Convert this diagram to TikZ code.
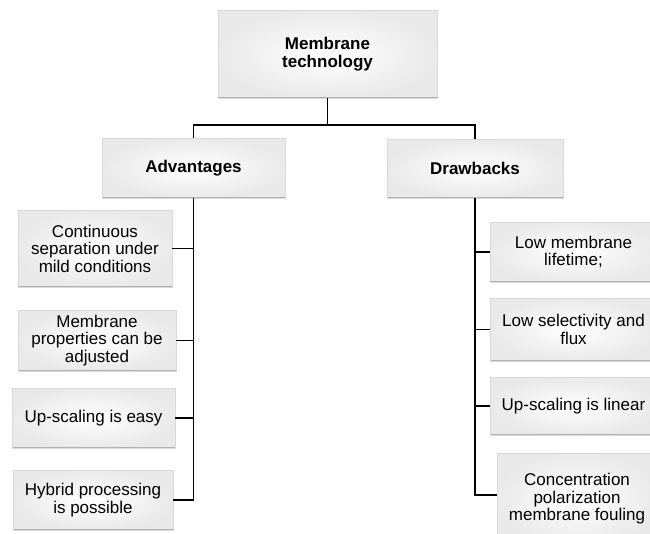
\documentclass[tikz,border=0pt]{standalone}
\usepackage{fontspec}
\setmainfont{Liberation Sans}
\usetikzlibrary{calc,positioning}

\tikzset{
  box/.style={draw=gray!30, shading=radial, inner color=white, outer color=gray!17,
    align=center, inner sep=2pt, font=\fontsize{17}{17.5}\selectfont,
    path picture={\draw[gray!60, line width=3pt]
      (path picture bounding box.south west) -- (path picture bounding box.south east);}},
  headbox/.style={box, font=\bfseries\fontsize{17}{18}\selectfont},
  link/.style={line width=1.7pt, black}
}

\begin{document}
\begin{tikzpicture}[x=1pt, y=-1pt]
\useasboundingbox (0,0) rectangle (650,533);
\clip (0,0) rectangle (650,533);
\fill[white] (0,0) rectangle (650,533);

% ---- Top level ----
\node[headbox, minimum width=219pt, minimum height=88pt] (tech) at (327.5,54) {Membrane\\technology};
\coordinate (bus) at (327.5,125);

% ---- Second level ----
\node[headbox, minimum width=183pt, minimum height=60pt] (adv) at (193.5,168) {Advantages};
\node[headbox, minimum width=176pt, minimum height=59pt] (drw) at (475,168.5) {Drawbacks};

% ---- Advantages ----
\node[box, minimum width=154pt, minimum height=77pt] (adv1) at (95,248.5) {Continuous\\separation under\\mild conditions};
\node[box, minimum width=158pt, minimum height=61pt] (adv2) at (97,340.5) {Membrane\\properties can be\\adjusted};
\node[box, minimum width=163pt, minimum height=60pt] (adv3) at (93.5,418) {Up-scaling is easy};
\node[box, minimum width=160pt, minimum height=60pt] (adv4) at (93,500) {Hybrid processing\\is possible};

% ---- Drawbacks ----
\node[box, minimum width=167pt, minimum height=60pt] (drw1) at (573.5,252) {Low membrane\\lifetime;};
\node[box, minimum width=167pt, minimum height=63pt] (drw2) at (573.5,329.5) {Low selectivity and\\flux};
\node[box, minimum width=167pt, minimum height=58pt] (drw3) at (573.5,406) {Up-scaling is linear};
\node[box, minimum width=160pt, minimum height=92pt] (drw4) at (577,499) {Concentration\\polarization\\membrane fouling};

% ---- Connectors ----
\draw[link] (tech.south) -- (bus);
\draw[link] (adv.north) |- (bus) -| (drw.north);

\draw[link] (adv.south) |- (adv4.east);
\draw[link] (adv1.east) -- (adv1.east -| adv.south);
\draw[link] (adv2.east) -- (adv2.east -| adv.south);
\draw[link] (adv3.east) -- (adv3.east -| adv.south);

\draw[link] (drw.south) |- ($(drw4.west)+(0,-4)$);
\draw[link] (drw1.west) -- (drw1.west -| drw.south);
\draw[link] (drw2.west) -- (drw2.west -| drw.south);
\draw[link] (drw3.west) -- (drw3.west -| drw.south);

\end{tikzpicture}
\end{document}
